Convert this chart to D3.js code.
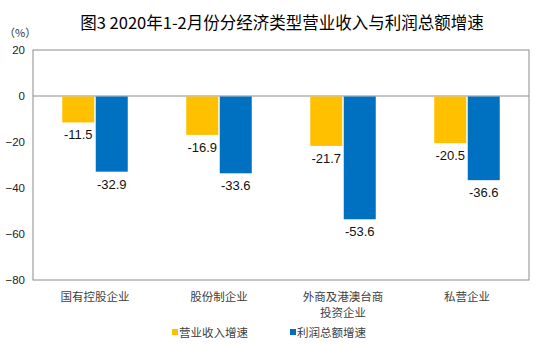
<!DOCTYPE html>
<html><head><meta charset="utf-8">
<script src="https://cdn.jsdelivr.net/npm/d3@7"></script>
<style>body{margin:0;background:#fff}svg{display:block}text{font-family:"Liberation Sans",Arial,sans-serif}</style>
</head><body><div id="c"></div>
<script>
const categories = [["国有控股企业"],["股份制企业"],["外商及港澳台商","投资企业"],["私营企业"]];
const seriesNames = ["营业收入增速","利润总额增速"];
const revenue = [-11.5,-16.9,-21.7,-20.5];
const profit = [-32.9,-33.6,-53.6,-36.6];
const yTicks = [20,0,-20,-40,-60,-80];
const colors = ["#FFC000","#0070C0"];
const cjk = '"Noto Sans CJK SC","Microsoft YaHei",sans-serif';

const W=543,H=344;
const svg=d3.select("#c").append("svg").attr("width",W).attr("height",H);
const L=33,R=529,T=50,B=280;
const x=d3.scaleBand().domain(d3.range(categories.length)).range([L,R]);
const y=d3.scaleLinear().domain([-80,20]).range([B,T]);
const bw=32, gap=1.5;

svg.append("text").attr("x",282).attr("y",29).attr("text-anchor","middle")
  .style("font-family",cjk).style("font-size","16.5px").style("font-weight",400).attr("fill","#000")
  .text("图3 2020年1-2月份分经济类型营业收入与利润总额增速");
svg.append("text").attr("x",4).attr("y",37).style("font-family",cjk).style("font-size","11px").attr("fill","#333").text("（%）");

// frame
svg.append("rect").attr("x",L).attr("y",T).attr("width",R-L).attr("height",B-T).attr("fill","none").attr("stroke","#8c8c8c").attr("stroke-width",1);

const yAxis=d3.axisLeft(y).tickValues(yTicks).tickSize(0).tickPadding(8);
const ga=svg.append("g").attr("transform",`translate(${L},0)`).call(yAxis);
ga.select(".domain").remove();
ga.selectAll("text").style("font-size","11.5px").attr("fill","#222").style("font-family","'Liberation Sans',Arial,sans-serif");

// zero line
svg.append("line").attr("x1",L).attr("x2",R).attr("y1",y(0)).attr("y2",y(0)).attr("stroke","#8c8c8c");

const series=[revenue,profit];
series.forEach((vals,s)=>{
  const g=svg.append("g");
  vals.forEach((v,i)=>{
    const cx=x(i)+x.bandwidth()/2;
    const bx = s===0 ? cx-gap/2-bw : cx+gap/2;
    g.append("rect").attr("x",bx).attr("y",y(0)+0.5).attr("width",bw).attr("height",y(v)-y(0)-0.5).attr("fill",colors[s]);
    g.append("text").attr("x",bx+bw/2).attr("y",y(v)+17).attr("text-anchor","middle")
      .style("font-size","13px").attr("fill","#111").text(v.toFixed(1));
  });
});

// category labels
categories.forEach((lines,i)=>{
  const t=svg.append("text").attr("x",x(i)+x.bandwidth()/2).attr("y",301).attr("text-anchor","middle")
    .style("font-family",cjk).style("font-size","11.5px").attr("fill","#404040");
  lines.forEach((ln,k)=>t.append("tspan").attr("x",x(i)+x.bandwidth()/2).attr("dy",k?16:0).text(ln));
});

// legend
const lx=[172,290];
seriesNames.forEach((n,s)=>{
  svg.append("rect").attr("x",lx[s]).attr("y",329).attr("width",6).attr("height",6).attr("fill",colors[s]);
  svg.append("text").attr("x",lx[s]+7).attr("y",336.5).style("font-family",cjk).style("font-size","11.5px").attr("fill","#404040").text(n);
});
</script></body></html>
